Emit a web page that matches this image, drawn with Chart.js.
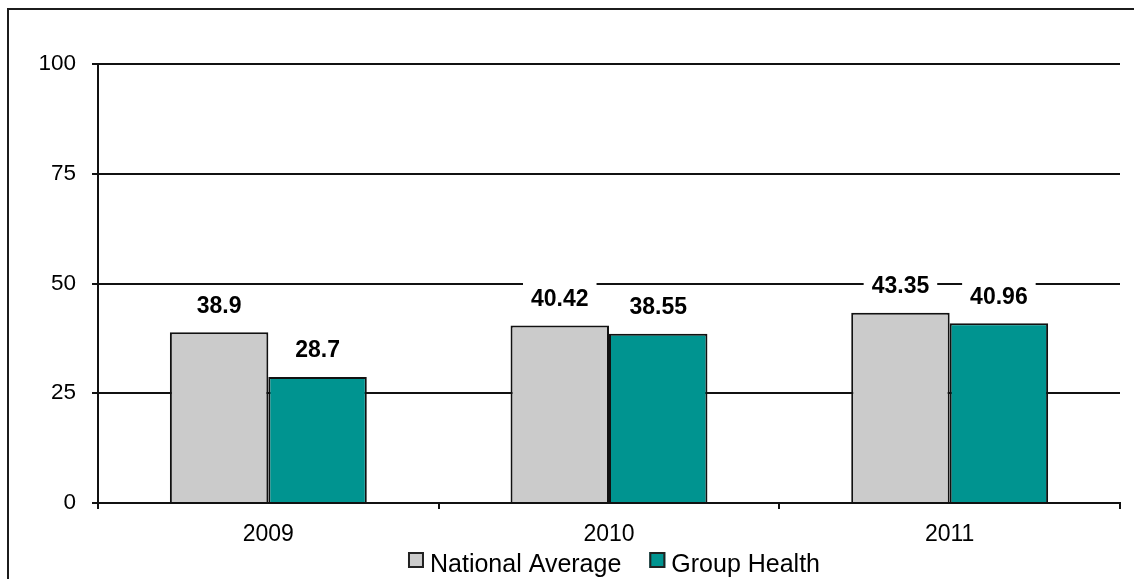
<!DOCTYPE html>
<html>
<head>
<meta charset="utf-8">
<script src="https://cdn.jsdelivr.net/npm/chart.js@4.4.1/dist/chart.umd.min.js"></script>
<style>
    html, body { margin: 0; padding: 0; background: #fff; overflow: hidden; }
    #wrap { position: relative; width: 1134px; height: 579px; }
    #frame {
        position: absolute; left: 7px; top: 8px; width: 1300px; height: 800px;
        border-left: 2px solid #1c1c1c; border-top: 2px solid #1c1c1c;
        pointer-events: none;
    }
    canvas { position: absolute; left: 0; top: 0; }
</style>
</head>
<body>
<div id="wrap">
    <div id="frame"></div>
    <canvas id="chart" width="1134" height="579"></canvas>
</div>
<script>
const years = ["2009", "2010", "2011"];
const nationalAverage = [38.9, 40.42, 43.35];
const groupHealth = [28.7, 38.55, 40.96];
const seriesNames = ["National Average", "Group Health"];
const yTicks = [0, 25, 50, 75, 100];

const FONT = "'Liberation Sans', Arial, sans-serif";

// etiquetas de valor encima de cada barra, con fondo blanco
const valueLabels = {
    id: "valueLabels",
    afterDatasetsDraw(chart) {
        const ctx = chart.ctx;
        ctx.save();
        ctx.font = "bold 23px " + FONT;
        ctx.textAlign = "center";
        ctx.textBaseline = "middle";
        chart.data.datasets.forEach((ds, i) => {
            chart.getDatasetMeta(i).data.forEach((bar, j) => {
                const text = String(ds.data[j]);
                const w = ctx.measureText(text).width;
                const cy = bar.y - 26;
                ctx.fillStyle = "#fff";
                ctx.fillRect(bar.x - w / 2 - 8, cy - 19, w + 16, 34);
                ctx.fillStyle = "#000";
                ctx.fillText(text, bar.x, cy);
            });
        });
        ctx.restore();
    }
};

// leyenda dibujada a mano para controlar el espaciado
const bottomLegend = {
    id: "bottomLegend",
    afterDraw(chart) {
        const ctx = chart.ctx;
        ctx.save();
        ctx.font = "25px " + FONT;
        ctx.textBaseline = "alphabetic";
        ctx.textAlign = "left";
        const box = 16, gap = 6, spacing = 28;
        const items = chart.data.datasets.map(ds => ({
            text: ds.label, color: ds.backgroundColor, w: ctx.measureText(ds.label).width
        }));
        let total = 0;
        items.forEach((it, k) => { total += box + gap + it.w + (k ? spacing : 0); });
        let x = (chart.chartArea.left + chart.chartArea.right) / 2 + 5 - total / 2;
        items.forEach(it => {
            ctx.fillStyle = it.color;
            ctx.fillRect(x, 552, box, box);
            ctx.strokeStyle = "#222";
            ctx.lineWidth = 2;
            ctx.strokeRect(x + 1, 553, box - 2, box - 2);
            ctx.fillStyle = "#000";
            ctx.fillText(it.text, x + box + gap, 572);
            x += box + gap + it.w + spacing;
        });
        ctx.restore();
    }
};

new Chart(document.getElementById("chart"), {
    type: "bar",
    data: {
        labels: years,
        datasets: [
            {
                label: seriesNames[0],
                data: nationalAverage,
                backgroundColor: "#cbcbcb",
                borderColor: "#111",
                borderWidth: 2,
                categoryPercentage: 0.578,
                barPercentage: 1
            },
            {
                label: seriesNames[1],
                data: groupHealth,
                backgroundColor: "#009490",
                borderColor: "#111",
                borderWidth: 2,
                categoryPercentage: 0.578,
                barPercentage: 1
            }
        ]
    },
    options: {
        responsive: false,
        animation: false,
        devicePixelRatio: 1,
        layout: { padding: { left: 0, right: 14, top: 64, bottom: 36 } },
        plugins: {
            legend: { display: false },
            tooltip: { enabled: false }
        },
        scales: {
            x: {
                offset: true,
                grid: {
                    offset: true,
                    drawOnChartArea: false,
                    drawTicks: true,
                    tickLength: 6,
                    color: "#111",
                    lineWidth: 2
                },
                border: { color: "#111", width: 2 },
                ticks: {
                    color: "#000",
                    font: { family: FONT, size: 23 },
                    padding: 12,
                    maxRotation: 0
                },
                afterFit(scale) { scale.height = 40; }
            },
            y: {
                min: 0,
                max: 100,
                afterBuildTicks(scale) { scale.ticks = yTicks.map(v => ({ value: v })); },
                grid: {
                    color: "#111",
                    lineWidth: 2,
                    drawTicks: true,
                    tickLength: 6
                },
                border: { color: "#111", width: 2 },
                ticks: {
                    color: "#000",
                    font: { family: FONT, size: 22.5 },
                    padding: 16
                },
                afterFit(scale) { scale.width = 98; }
            }
        }
    },
    plugins: [valueLabels, bottomLegend]
});
</script>
</body>
</html>
